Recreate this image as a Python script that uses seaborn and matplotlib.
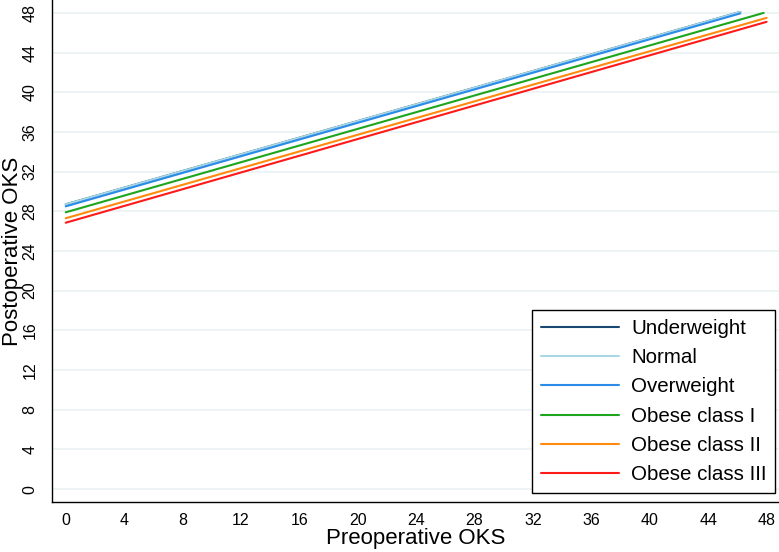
import numpy as np
import pandas as pd
import matplotlib
matplotlib.use("Agg")
import matplotlib.pyplot as plt
import seaborn as sns

# fitted lines, start and end point for each BMI group
groups = ["Underweight", "Normal", "Overweight", "Obese class I", "Obese class II", "Obese class III"]
x_start = [0, 0, 0, 0, 0, 0]
x_end = [46.2, 46.2, 46.2, 47.8, 48, 48]
y_start = [28.7, 28.7, 28.5, 27.9, 27.3, 26.85]
y_end = [48.1, 48.1, 47.95, 48.0, 47.5, 47.1]
colors = ["#1a476f", "#a8d8e6", "#2a8ce8", "#1ea51e", "#ff8a0d", "#ff1a1a"]

rows = []
for g, x0, x1, y0, y1 in zip(groups, x_start, x_end, y_start, y_end):
    rows.append({"group": g, "pre": x0, "post": y0})
    rows.append({"group": g, "pre": x1, "post": y1})
dane = pd.DataFrame(rows)

sns.set_style("white")
plt.rcParams["font.family"] = ["Liberation Sans", "DejaVu Sans"]
plt.rcParams["text.color"] = "black"
plt.rcParams["axes.labelcolor"] = "black"
plt.rcParams["xtick.color"] = "black"
plt.rcParams["ytick.color"] = "black"

fig = plt.figure(figsize=(7.79, 5.52), dpi=100)
ax = fig.add_axes([52 / 779, 50 / 552, 727 / 779, 502 / 552])

sns.lineplot(data=dane, x="pre", y="post", hue="group", hue_order=groups,
             palette=colors, linewidth=1.5, ax=ax)

ax.set_xlim(-0.94, 48.85)
ax.set_ylim(-1.3, 49.3)
ax.set_xticks(np.arange(0, 49, 4))
ax.set_xticks([t for t in range(1, 12) if t % 4 != 0], minor=True)
ax.set_yticks(np.arange(0, 49, 4))
ax.yaxis.grid(True, color="#eaf2f3", linewidth=1.2)
ax.set_axisbelow(True)

for s in ["top", "right"]:
    ax.spines[s].set_visible(False)
for s in ["left", "bottom"]:
    ax.spines[s].set_color("black")
    ax.spines[s].set_linewidth(1.0)

ax.tick_params(axis="x", which="major", length=5, width=1, labelsize=11.5, pad=3)
ax.tick_params(axis="x", which="minor", length=2.5, width=1)
ax.tick_params(axis="y", which="major", length=6.5, width=1, labelsize=11.5, pad=4)
for lab in ax.get_yticklabels():
    lab.set_rotation(90)
    lab.set_va("center")

ax.set_xlabel("Preoperative OKS", fontsize=16, labelpad=0)
ax.set_ylabel("Postoperative OKS", fontsize=16)
ax.yaxis.set_label_coords(-0.04, 0.5)

leg = ax.legend(loc="lower right", bbox_to_anchor=(0.995, 0.018), borderaxespad=0,
                fontsize=14.8, handlelength=3.8, handletextpad=0.6, labelspacing=0.5,
                fancybox=False, framealpha=1, edgecolor="black", borderpad=0.42)
leg.get_frame().set_linewidth(1.0)
for h in leg.get_lines():
    h.set_linewidth(1.5)

fig.savefig("out.png", dpi=100)
